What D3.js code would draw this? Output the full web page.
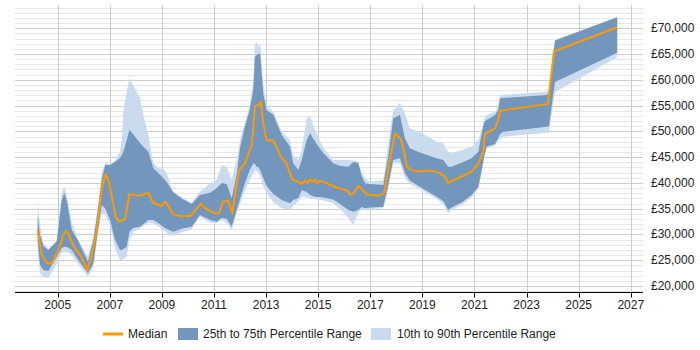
<!DOCTYPE html>
<html>
<head>
<meta charset="utf-8">
<script src="https://cdn.jsdelivr.net/npm/d3@7"></script>
<style>
  body { margin: 0; background: #fff; }
  svg { display: block; font-family: Arial, "Liberation Sans", sans-serif; }
</style>
</head>
<body>
<svg id="chart" width="700" height="350"></svg>
<script>
// Median salary line
const medianYears = [2004.23, 2004.39, 2004.58, 2004.77, 2004.90, 2005.09, 2005.21, 2005.32, 2005.41, 2005.60,
  2005.86, 2006.14, 2006.31, 2006.50, 2006.69, 2006.84, 2006.97, 2007.10, 2007.23, 2007.35,
  2007.58, 2007.75, 2008.16, 2008.48, 2008.65, 2008.99, 2009.12, 2009.25, 2009.44, 2009.69,
  2010.10, 2010.50, 2010.65, 2011.04, 2011.20, 2011.33, 2011.52, 2011.59, 2011.70, 2011.81,
  2011.97, 2012.19, 2012.45, 2012.57, 2012.68, 2012.73, 2012.79, 2012.89, 2013.02, 2013.28,
  2013.60, 2013.75, 2014.01, 2014.24, 2014.37, 2014.49, 2014.60, 2014.69, 2014.77, 2014.88,
  2014.94, 2015.07, 2015.33, 2015.64, 2016.03, 2016.09, 2016.25, 2016.37, 2016.54, 2016.71,
  2016.86, 2017.37, 2017.54, 2017.73, 2017.95, 2018.17, 2018.29, 2018.40, 2018.59, 2018.84,
  2019.36, 2019.68, 2019.87, 2019.99, 2020.44, 2020.89, 2021.15, 2021.34, 2021.40, 2021.79,
  2021.91, 2021.98, 2023.82, 2024.05, 2026.48];
const medianValues = [30900, 26000, 24500, 24300, 25700, 27800, 29900, 30700, 30200, 27800,
  26000, 23100, 26000, 30900, 39000, 41700, 40200, 36700, 33400, 32500,
  32900, 37800, 37500, 38100, 36200, 35500, 36400, 35500, 33900, 33600,
  33600, 36000, 35100, 34100, 34100, 36300, 36600, 36000, 34100, 38000,
  42500, 43800, 47400, 54800, 55100, 55100, 55800, 51600, 48300, 48200,
  44800, 44100, 40700, 40200, 39800, 40400, 40000, 40700, 40200, 40600,
  40000, 40400, 39900, 39200, 38600, 38600, 37700, 38100, 39400, 38600,
  37800, 37500, 38100, 43800, 49600, 48500, 46300, 43100, 42500, 42200,
  42400, 41900, 41200, 40000, 41100, 42200, 43800, 46100, 49500, 50600,
  52300, 54000, 55300, 65500, 70200];

// Percentile bands
const bandYears = [2004.23, 2004.32, 2004.45, 2004.64, 2004.96, 2005.15, 2005.25, 2005.36, 2005.54, 2005.79,
  2006.16, 2006.37, 2006.53, 2006.69, 2006.82, 2007.01, 2007.20, 2007.39, 2007.46, 2007.52,
  2007.65, 2007.75, 2007.89, 2008.16, 2008.29, 2008.48, 2008.67, 2008.86, 2009.05, 2009.18,
  2009.44, 2009.82, 2010.14, 2010.46, 2010.85, 2011.10, 2011.30, 2011.49, 2011.68, 2011.87,
  2012.00, 2012.19, 2012.37, 2012.51, 2012.57, 2012.64, 2012.70, 2012.77, 2012.89, 2013.02,
  2013.28, 2013.60, 2013.92, 2014.04, 2014.24, 2014.37, 2014.56, 2014.69, 2014.88, 2015.20,
  2015.58, 2015.84, 2016.16, 2016.35, 2016.54, 2016.67, 2016.80, 2016.99, 2017.50, 2017.69,
  2017.88, 2018.14, 2018.33, 2018.52, 2018.90, 2019.55, 2019.80, 2019.99, 2020.12, 2020.51,
  2020.89, 2021.15, 2021.30, 2021.38, 2021.47, 2021.79, 2021.91, 2021.98, 2022.11, 2023.77,
  2023.86, 2024.09, 2026.48];
const p90 = [36350, 31830, 28340, 27180, 28920, 38040, 39260, 37460, 32220, 28920,
  25680, 29700, 35130, 42120, 43860, 43670, 44440, 46000, 48320, 53760,
  57640, 60350, 58990, 56470, 53170, 49290, 43860, 42890, 42700, 41860,
  38290, 37010, 36160, 38290, 39920, 40560, 43470, 43140, 40560, 44440,
  48320, 51820, 55110, 59960, 66750, 67390, 66420, 67080, 59320, 54780,
  53810, 49930, 48320, 45410, 44440, 46380, 52530, 52840, 50260, 46770,
  44440, 44440, 44440, 44350, 44110, 41920, 40950, 40230, 40560, 47680,
  54140, 55560, 53500, 50560, 49930, 47990, 47680, 46000, 45740, 46380,
  47020, 48320, 50650, 52530, 53170, 53810, 54780, 57050, 57090, 57690,
  58020, 67720, 72190];
const p75 = [33770, 29890, 27760, 26980, 28590, 36490, 38100, 36300, 30860, 28730,
  24710, 28920, 34360, 40560, 43470, 43470, 44060, 44830, 45410, 46000,
  48320, 50260, 49490, 47740, 47020, 46050, 42890, 41920, 40950, 40180,
  38140, 36780, 35910, 37650, 38100, 38950, 39980, 39790, 37010, 41530,
  46770, 51040, 54140, 58020, 64430, 64810, 65010, 65140, 57380, 54140,
  53170, 49290, 47020, 43800, 42500, 44440, 48320, 49620, 47990, 45740,
  43800, 43280, 43140, 44060, 43860, 41340, 39920, 39790, 39590, 45080,
  52530, 53170, 48650, 46710, 45900, 44770, 44440, 43140, 43140, 43920,
  44770, 46050, 50260, 51870, 52200, 53170, 54140, 56410, 56470, 57050,
  57440, 67630, 72130];
const p25 = [28920, 24070, 23100, 22910, 25630, 27370, 27620, 27570, 26980, 25040,
  22460, 24400, 30280, 35710, 35070, 32800, 28920, 26980, 26980, 27180,
  27620, 30480, 31250, 31500, 32030, 32800, 32800, 32220, 31500, 31060,
  30530, 31190, 31500, 33770, 32800, 32470, 33190, 33000, 31500, 34740,
  36880, 39980, 42500, 43800, 43670, 43140, 43090, 42500, 40950, 39400,
  37850, 36680, 36040, 36680, 37070, 38620, 38240, 37650, 37320, 37170,
  36780, 35910, 34740, 34410, 34740, 35330, 35070, 35230, 35380, 39590,
  44440, 44770, 41860, 40470, 39260, 37320, 36490, 34740, 35230, 36200,
  37650, 39260, 43140, 45410, 47020, 47550, 48710, 49490, 49930, 50900,
  51040, 59580, 65260];
const p10 = [26980, 22520, 21750, 21550, 24270, 26400, 26650, 26600, 26010, 24270,
  21800, 23740, 29700, 34100, 33770, 31830, 27370, 25040, 25040, 25240,
  25680, 28920, 30480, 31190, 31640, 32220, 32130, 31540, 30860, 30280,
  29700, 30530, 30960, 33440, 32280, 32220, 32800, 32220, 30860, 34100,
  35910, 38620, 40470, 41920, 42500, 42310, 41920, 41340, 39400, 38040,
  36300, 35070, 34740, 35520, 36490, 37320, 37170, 37070, 36880, 36590,
  36100, 34940, 33190, 31830, 34360, 34740, 34740, 34940, 35070, 39010,
  43860, 43800, 40950, 39790, 38820, 36880, 35910, 34100, 34740, 35710,
  37170, 38820, 42500, 44830, 46710, 47260, 48130, 48460, 48960, 49740,
  49680, 57640, 64370];

const xTicks = [2005, 2007, 2009, 2011, 2013, 2015, 2017, 2019, 2021, 2023, 2025, 2027];
const yTicks = [20000, 25000, 30000, 35000, 40000, 45000, 50000, 55000, 60000, 65000, 70000];
const yMinor = d3.range(19000, 75000, 1000);

const svg = d3.select("#chart");

const x = d3.scaleLinear().domain([2003.36, 2027.47]).range([15, 643]);
const y = d3.scaleLinear().domain([18780, 74510]).range([292.3, 5]);

const plotTop = 5, plotBottom = 292.5;

// horizontal grid, darker every 5k
svg.append("g").selectAll("line").data(yMinor).join("line")
  .attr("x1", 15).attr("x2", 643)
  .attr("y1", d => Math.round(y(d)) + 0.5).attr("y2", d => Math.round(y(d)) + 0.5)
  .attr("stroke", d => d % 5000 === 0 ? "#cccccc" : "#e6e6e6")
  .attr("stroke-width", 1);

// vertical grid
svg.append("g").selectAll("line").data(xTicks).join("line")
  .attr("x1", d => Math.round(x(d)) + 0.5).attr("x2", d => Math.round(x(d)) + 0.5)
  .attr("y1", plotTop).attr("y2", plotBottom)
  .attr("stroke", "#cccccc");

const bands = bandYears.map((yr, i) => ({yr, p10: p10[i], p25: p25[i], p75: p75[i], p90: p90[i]}));

const outer = d3.area().x(d => x(d.yr)).y0(d => y(d.p10)).y1(d => y(d.p90));
const inner = d3.area().x(d => x(d.yr)).y0(d => y(d.p25)).y1(d => y(d.p75));

svg.append("path").datum(bands).attr("d", outer).attr("fill", "#c9dbed");
svg.append("path").datum(bands).attr("d", inner).attr("fill", "#7396bd");

const med = medianYears.map((yr, i) => ({yr, v: medianValues[i]}));
svg.append("path").datum(med)
  .attr("d", d3.line().x(d => x(d.yr)).y(d => y(d.v)))
  .attr("fill", "none").attr("stroke", "#ff9900").attr("stroke-width", 2)
  .attr("stroke-linejoin", "round");

// x axis
const xAxis = svg.append("g").attr("transform", `translate(0,${plotBottom})`);
xAxis.append("line").attr("x1", 15).attr("x2", 643).attr("y1", 0).attr("y2", 0)
  .attr("stroke", "#000");
xAxis.selectAll(".tk").data(xTicks).join("line")
  .attr("x1", d => Math.round(x(d)) + 0.5).attr("x2", d => Math.round(x(d)) + 0.5)
  .attr("y1", 0).attr("y2", 5).attr("stroke", "#000");
xAxis.selectAll("text").data(xTicks).join("text")
  .attr("x", d => x(d)).attr("y", 16)
  .attr("text-anchor", "middle").attr("font-size", 12).attr("fill", "#222")
  .text(d => d);

// y labels on the right
svg.append("g").selectAll("text").data(yTicks).join("text")
  .attr("x", 651).attr("y", d => y(d) + 4)
  .attr("font-size", 12).attr("fill", "#222")
  .text(d => "£" + d3.format(",")(d));

// legend
const lg = svg.append("g").attr("font-size", 12).attr("fill", "#222");
lg.append("line").attr("x1", 103).attr("x2", 123).attr("y1", 334).attr("y2", 334)
  .attr("stroke", "#ff9900").attr("stroke-width", 3);
lg.append("text").attr("x", 128).attr("y", 338).text("Median");
lg.append("rect").attr("x", 178).attr("y", 328).attr("width", 20).attr("height", 12).attr("fill", "#7396bd");
lg.append("text").attr("x", 203).attr("y", 338).text("25th to 75th Percentile Range");
lg.append("rect").attr("x", 371).attr("y", 328).attr("width", 20).attr("height", 12).attr("fill", "#c9dbed");
lg.append("text").attr("x", 397).attr("y", 338).text("10th to 90th Percentile Range");
</script>
</body>
</html>
